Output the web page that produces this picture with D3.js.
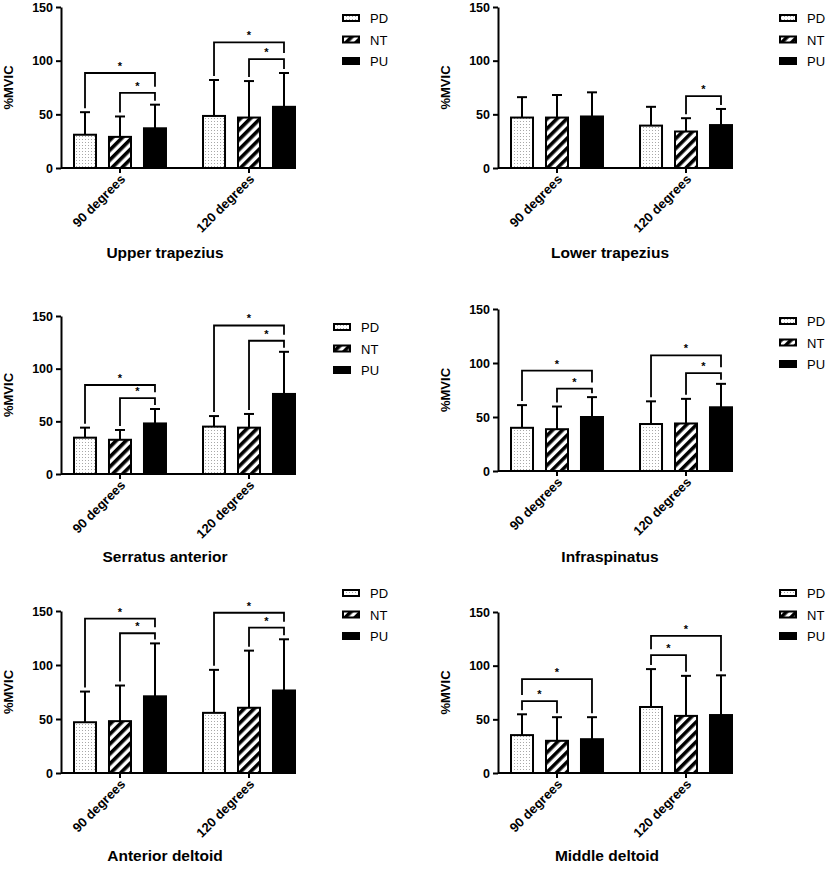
<!DOCTYPE html>
<html>
<head>
<meta charset="utf-8">
<script src="https://cdn.jsdelivr.net/npm/d3@7"></script>
<style>
  html, body { margin: 0; padding: 0; background: #fff; }
  svg { display: block; font-family: "Liberation Sans", Arial, sans-serif; }
</style>
</head>
<body>
<svg id="chart" width="827" height="871"></svg>
<script>
// ---------- DATA ----------
const groups = ["90 degrees", "120 degrees"];
const series = ["PD", "NT", "PU"];
const yTicks = [0, 50, 100, 150];
const muscles = ["Upper trapezius", "Lower trapezius", "Serratus anterior",
                 "Infraspinatus", "Anterior deltoid", "Middle deltoid"];

// means [group][series]
const upperTrapeziusMean  = [[31, 29, 37], [48.5, 47, 57]];
const lowerTrapeziusMean  = [[47, 47, 48], [39.5, 34, 40]];
const serratusMean        = [[34.5, 32.5, 48], [45, 44, 76]];
const infraspinatusMean   = [[40, 38.7, 50], [43.5, 44, 59]];
const anteriorDeltoidMean = [[47, 48, 71], [55.7, 60.4, 76.4]];
const middleDeltoidMean   = [[35.3, 30, 31.5], [61.5, 53.2, 54]];

// standard deviations (upper error bar) [group][series]
const upperTrapeziusSD  = [[21, 19, 22], [33.5, 34, 31.5]];
const lowerTrapeziusSD  = [[19, 21, 22.5], [17.5, 12.4, 15]];
const serratusSD        = [[9.5, 9.3, 13.7], [10, 13, 40]];
const infraspinatusSD   = [[21, 21, 18.4], [21, 22.8, 21.7]];
const anteriorDeltoidSD = [[28.4, 33, 49], [39.8, 52.9, 47.4]];
const middleDeltoidSD   = [[19.4, 22, 20.5], [35.3, 37.3, 37]];

// significance brackets: [group, fromSeries, toSeries, level]
const upperTrapeziusSig  = [[0, 0, 2, 88.5], [0, 1, 2, 70], [1, 0, 2, 117], [1, 1, 2, 101.5]];
const lowerTrapeziusSig  = [[1, 1, 2, 67]];
const serratusSig        = [[0, 0, 2, 84.5], [0, 1, 2, 72], [1, 0, 2, 141], [1, 1, 2, 126.5]];
const infraspinatusSig   = [[0, 0, 2, 93], [0, 1, 2, 76.3], [1, 0, 2, 107], [1, 1, 2, 90.6]];
const anteriorDeltoidSig = [[0, 0, 2, 143], [0, 1, 2, 129.4], [1, 0, 2, 148.4], [1, 1, 2, 134.6]];
const middleDeltoidSig   = [[0, 0, 2, 87.5], [0, 0, 1, 67], [1, 0, 2, 127.7], [1, 0, 1, 109.8]];

const allMeans = [upperTrapeziusMean, lowerTrapeziusMean, serratusMean, infraspinatusMean, anteriorDeltoidMean, middleDeltoidMean];
const allSD = [upperTrapeziusSD, lowerTrapeziusSD, serratusSD, infraspinatusSD, anteriorDeltoidSD, middleDeltoidSD];
const allSig = [upperTrapeziusSig, lowerTrapeziusSig, serratusSig, infraspinatusSig, anteriorDeltoidSig, middleDeltoidSig];

// ---------- LAYOUT ----------
const layout = [
  {x0: 61,  yTop: 7,   yBot: 168, legX: 343, legY: 18,  titleX: 165, titleY: 258},
  {x0: 498, yTop: 7,   yBot: 168, legX: 780, legY: 18,  titleX: 610, titleY: 258},
  {x0: 61,  yTop: 316, yBot: 474, legX: 334, legY: 327, titleX: 165, titleY: 562},
  {x0: 498, yTop: 309, yBot: 471, legX: 780, legY: 321, titleX: 610, titleY: 562},
  {x0: 61,  yTop: 611, yBot: 773, legX: 343, legY: 593, titleX: 165, titleY: 861},
  {x0: 498, yTop: 612, yBot: 773, legX: 780, legY: 593, titleX: 607, titleY: 861}
];
const axisLen = 234;

const svg = d3.select("#chart");
const defs = svg.append("defs");

// dotted pattern
const dots = defs.append("pattern").attr("id", "dots")
  .attr("patternUnits", "userSpaceOnUse").attr("width", 3).attr("height", 3);
dots.append("rect").attr("width", 3).attr("height", 3).attr("fill", "#fff");
dots.append("rect").attr("x", 1).attr("y", 1).attr("width", 1).attr("height", 1).attr("fill", "#a8a8a8");

// hatch pattern
const hatch = defs.append("pattern").attr("id", "hatch")
  .attr("patternUnits", "userSpaceOnUse").attr("width", 7).attr("height", 7)
  .attr("patternTransform", "rotate(45)");
hatch.append("rect").attr("width", 7).attr("height", 7).attr("fill", "#fff");
hatch.append("rect").attr("x", 0).attr("y", 0).attr("width", 3.6).attr("height", 7).attr("fill", "#000");

const fills = {PD: "url(#dots)", NT: "url(#hatch)", PU: "#000"};

muscles.forEach((name, pi) => {
  const L = layout[pi];
  const means = allMeans[pi], sds = allSD[pi], sigs = allSig[pi];
  const g = svg.append("g");

  const y = d3.scaleLinear().domain([0, 150]).range([L.yBot, L.yTop]);
  const x = d3.scaleBand().domain(groups).range([L.x0 + 13, L.x0 + axisLen]).paddingInner(0.287).paddingOuter(0);
  const xs = d3.scaleBand().domain(series).range([0, x.bandwidth()]).paddingInner(0.371).paddingOuter(0);

  // bars & error bars
  groups.forEach((grp, gi) => {
    series.forEach((s, si) => {
      const m = means[gi][si], sd = sds[gi][si];
      const bx = x(grp) + xs(s), bw = xs.bandwidth();
      const cx = bx + bw / 2;
      g.append("line").attr("x1", cx).attr("x2", cx).attr("y1", y(m)).attr("y2", y(m + sd))
        .attr("stroke", "#000").attr("stroke-width", 2);
      g.append("line").attr("x1", cx - 5).attr("x2", cx + 5).attr("y1", y(m + sd)).attr("y2", y(m + sd))
        .attr("stroke", "#000").attr("stroke-width", 2);
      g.append("rect").attr("x", bx).attr("y", y(m)).attr("width", bw).attr("height", y(0) - y(m))
        .attr("fill", fills[s]).attr("stroke", "#000").attr("stroke-width", 2);
    });
  });

  // significance brackets
  sigs.forEach(([gi, a, b, lvl]) => {
    const grp = groups[gi];
    const xa = x(grp) + xs(series[a]) + xs.bandwidth() / 2;
    const xb = x(grp) + xs(series[b]) + xs.bandwidth() / 2;
    const yl = y(lvl);
    const legBottom = (si) => {
      const lower = sigs.filter(q => q[0] === gi && q[3] < lvl && (q[1] === si || q[2] === si));
      if (lower.length) {
        const top = d3.max(lower, q => q[3]);
        return y(top) - 6;
      }
      return y(means[gi][si] + sds[gi][si]) - 4;
    };
    g.append("path")
      .attr("d", `M${xa},${legBottom(a)}V${yl}H${xb}V${legBottom(b)}`)
      .attr("fill", "none").attr("stroke", "#000").attr("stroke-width", 1.8);
    g.append("text").attr("x", (xa + xb) / 2).attr("y", yl - 3)
      .attr("text-anchor", "middle").attr("font-size", 11).attr("font-weight", "bold").text("*");
  });

  // y axis
  const yAxis = g.append("g").attr("transform", `translate(${L.x0},0)`)
    .call(d3.axisLeft(y).tickValues(yTicks).tickSize(5).tickPadding(3).tickSizeOuter(0));
  yAxis.select(".domain").attr("stroke-width", 2);
  yAxis.selectAll(".tick line").attr("stroke-width", 2);
  yAxis.selectAll("text").attr("font-size", 12.5).attr("font-weight", "bold")
    .attr("font-family", "Liberation Sans, Arial, sans-serif").attr("fill", "#000");

  // x axis
  const xAxisG = g.append("g").attr("transform", `translate(0,${L.yBot})`);
  xAxisG.append("line").attr("x1", L.x0).attr("x2", L.x0 + axisLen).attr("y1", 0).attr("y2", 0)
    .attr("stroke", "#000").attr("stroke-width", 2);
  groups.forEach(grp => {
    const cx = x(grp) + x.bandwidth() / 2;
    xAxisG.append("line").attr("x1", cx).attr("x2", cx).attr("y1", 0).attr("y2", 5)
      .attr("stroke", "#000").attr("stroke-width", 2);
    xAxisG.append("text")
      .attr("transform", `translate(${cx + 6},${12}) rotate(-45)`)
      .attr("text-anchor", "end").attr("font-size", 13).attr("font-weight", "bold").text(grp);
  });

  // y label
  g.append("text")
    .attr("transform", `translate(${L.x0 - 48},${(L.yTop + L.yBot) / 2}) rotate(-90)`)
    .attr("text-anchor", "middle").attr("font-size", 13).attr("font-weight", "bold").text("%MVIC");

  // title
  g.append("text").attr("x", L.titleX).attr("y", L.titleY)
    .attr("text-anchor", "middle").attr("font-size", 15.5).attr("font-weight", "bold").text(name);

  // legend
  series.forEach((s, si) => {
    const ly = L.legY + si * 21.5;
    g.append("rect").attr("x", L.legX).attr("y", ly - 3).attr("width", 16).attr("height", 6)
      .attr("fill", fills[s]).attr("stroke", "#000").attr("stroke-width", 2);
    g.append("text").attr("x", L.legX + 27).attr("y", ly + 5)
      .attr("font-size", 13).text(s);
  });
});
</script>
</body>
</html>
